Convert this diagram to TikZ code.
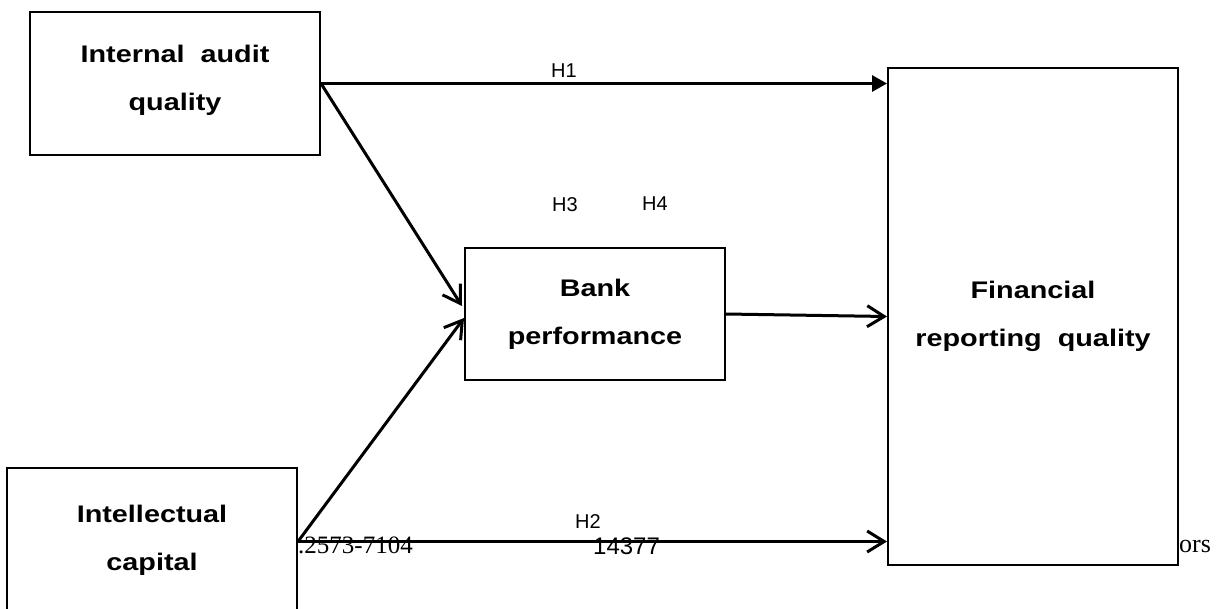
\documentclass[tikz,border=0pt]{standalone}
\usepackage{fontspec}
\setmainfont{Liberation Sans}
\newfontfamily\pageserif{Liberation Serif}
\newfontfamily\boxfont[FakeStretch=1.2]{Liberation Sans}
\usetikzlibrary{arrows.meta, calc}

\begin{document}
\begin{tikzpicture}[x=1pt, y=-1pt]
		\tikzstyle{box}=[rectangle, draw, line width=2pt, inner sep=0pt, align=center, font=\boxfont\fontsize{24}{48}\selectfont\bfseries]
		\tikzstyle{hyp}=[font=\fontsize{20}{22}\selectfont]
		\tikzstyle{stray}=[inner sep=0pt, anchor=base west]
		\tikzstyle{link}=[line width=3pt, -{Straight Barb[length=17pt, width=21pt, line width=3pt]}]

		\useasboundingbox (0,0) rectangle (1225,608);

		\node[box, minimum width=290pt, minimum height=143pt, text depth=12pt] (iaq) at (175,83.5) {
			Internal\ \ audit\\quality
		};

		\node[box, minimum width=260pt, minimum height=132pt] (bp) at (595,314) {
			Bank\\performance
		};

		\node[box, minimum width=290pt, minimum height=147pt, text depth=8pt] (ic) at (152,541.5) {
			Intellectual\\capital
		};

		\node[box, minimum width=290pt, minimum height=497pt] (frq) at (1033,316.5) {
			Financial\\reporting\ \ quality
		};

		% stray text under the lines
		\node[stray, font=\pageserif\fontsize{25}{28}\selectfont] (issn) at (298,553) {.2573-7104};
		\node[stray, font=\fontsize{24}{28}\selectfont] (page) at (593,554) {14377};
		\node[stray, font=\pageserif\fontsize{26}{28}\selectfont] (auth) at (1179,552) {ors};

		\draw[line width=3pt, -{Triangle[length=15pt, width=16pt]}] (iaq.east) -- (iaq.east -| frq.west)
			node[hyp, midway, above=1pt, xshift=-40pt] (h1) {H1};
		\draw[link] (iaq.east) -- ($(bp.west)+(-2,-8)$);
		\draw[link] (ic.east) -- ($(bp.west)+(0,4)$);
		\draw[link] (bp.east) -- (frq.west);
		\draw[link] (ic.east) -- (ic.east -| frq.west);

		\node[hyp] (h2) at (588,522) {H2};
		\node[hyp] (h3) at (565,205) {H3};
		\node[hyp] (h4) at (655,204) {H4};

	\end{tikzpicture}
\end{document}
